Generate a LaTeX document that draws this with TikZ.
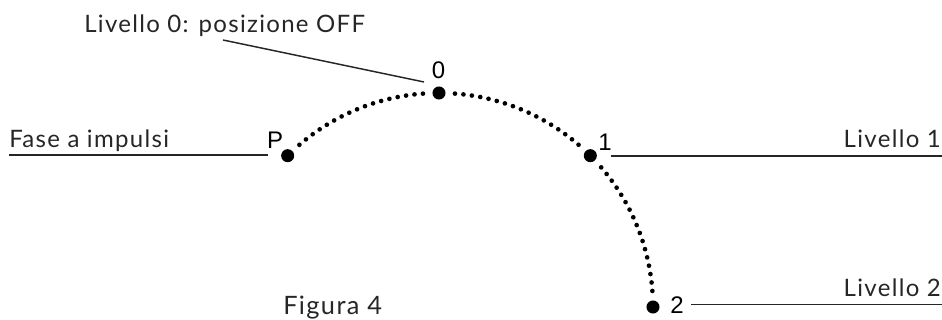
\documentclass[tikz,border=0pt]{standalone}
\usepackage{fontspec}
\setmainfont{Lato}[LetterSpace=5.5]
\newfontfamily\digitfont{Liberation Sans}
\begin{document}
\begin{tikzpicture}[x=0.75pt,y=0.75pt,
  bigdot/.style={circle,fill=black,inner sep=0pt,minimum size=9.8pt},
  lbl/.style={inner sep=0pt,font=\fontsize{18pt}{22pt}\selectfont,text=black!85},
  numlbl/.style={inner sep=0pt,font=\digitfont\fontsize{18pt}{21pt}\selectfont},
  leader/.style={line width=1.1pt,black!85}]
\useasboundingbox (0,0) rectangle (942,320);
% centre of the selector arc
\coordinate (C) at (439,13);
% switch positions
\node[bigdot] (P) at ([shift={(135:214)}]C) {};
\node[bigdot] (L0) at ([shift={(90:214)}]C) {};
\node[bigdot] (L1) at ([shift={(45:214)}]C) {};
\node[bigdot] (L2) at ([shift={(0:214)}]C) {};
% dotted arc between positions
\foreach \s in {135,90,45}
  \foreach \k in {0,...,16}
    \fill ([shift={(\s-4.28-\k*2.276:214)}]C) circle[radius=1.75pt];
% position numbers
\node[numlbl] (nP) at (275,180) {P};
\node[numlbl] (n0) at (438.5,249.7) {0};
\node[numlbl] (n1) at (605,177.5) {1};
\node[numlbl] (n2) at (677,15) {2};
% labels
\node[lbl,anchor=base west] (t0) at (84,287) {Livello 0: posizione OFF};
\node[lbl,anchor=base west] (tP) at (9,172) {Fase a impulsi};
\node[lbl,anchor=base east] (t1) at (941,172) {Livello 1};
\node[lbl,anchor=base east] (t2) at (941,23) {Livello 2};
\node[lbl,anchor=base west,font=\fontsize{19pt}{22pt}\selectfont] (fig) at (283,5) {Figura 4};
% leader lines
\coordinate (a0) at (223,280);
\coordinate (b0) at (424,238);
\draw[leader] (a0) -- (b0);
\coordinate (aP) at (9,165);
\coordinate (bP) at (268,165);
\draw[leader] (aP) -- (bP);
\coordinate (a1) at (611,164);
\coordinate (b1) at (942,164);
\draw[leader] (a1) -- (b1);
\coordinate (a2) at (691,15.5);
\coordinate (b2) at (942,15.5);
\draw[leader] (a2) -- (b2);
\end{tikzpicture}
\end{document}
